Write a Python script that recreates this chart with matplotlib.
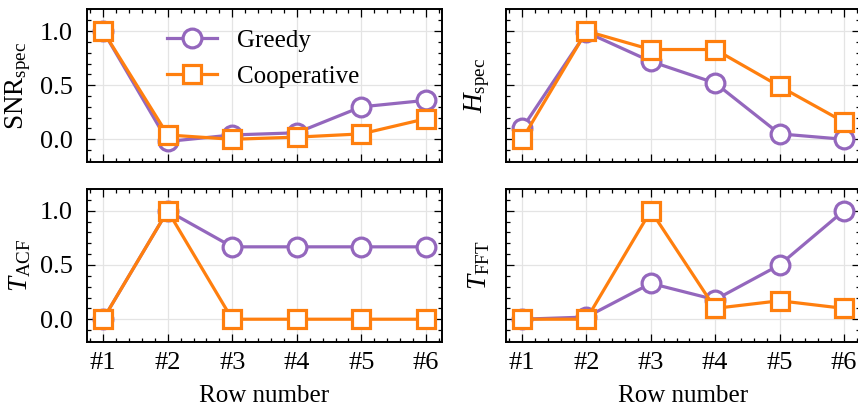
import matplotlib
matplotlib.use("Agg")
import matplotlib.pyplot as plt
from matplotlib.ticker import MultipleLocator, AutoMinorLocator

plt.rcParams['font.family'] = ['Liberation Serif', 'DejaVu Serif']
plt.rcParams['mathtext.fontset'] = 'custom'
plt.rcParams['mathtext.rm'] = 'Liberation Serif'
plt.rcParams['mathtext.it'] = 'Liberation Serif:italic'
plt.rcParams['mathtext.bf'] = 'Liberation Serif:bold'
plt.rcParams['font.size'] = 18

rows = [1, 2, 3, 4, 5, 6]
row_labels = ['#1', '#2', '#3', '#4', '#5', '#6']

snr_greedy = [1.0, -0.02, 0.04, 0.06, 0.30, 0.36]
snr_coop = [1.0, 0.04, 0.0, 0.02, 0.05, 0.19]

h_greedy = [0.10, 0.99, 0.72, 0.52, 0.05, 0.0]
h_coop = [0.0, 1.0, 0.83, 0.83, 0.49, 0.16]

tacf_greedy = [0.0, 1.0, 0.667, 0.667, 0.667, 0.667]
tacf_coop = [0.0, 1.0, 0.0, 0.0, 0.0, 0.0]

tfft_greedy = [0.0, 0.02, 0.33, 0.18, 0.50, 1.0]
tfft_coop = [0.0, 0.0, 1.0, 0.10, 0.17, 0.10]

ylabels = [r'SNR$_{\mathrm{spec}}$', r'$H_{\mathrm{spec}}$',
           r'$T_{\mathrm{ACF}}$', r'$T_{\mathrm{FFT}}$']
panels = [(snr_greedy, snr_coop), (h_greedy, h_coop),
          (tacf_greedy, tacf_coop), (tfft_greedy, tfft_coop)]

PURPLE = '#9467bd'
ORANGE = '#ff7f0e'

W, H = 858, 409
fig = plt.figure(figsize=(W / 100, H / 100), dpi=100)

# axes rectangles in pixel coords (left, top, right, bottom)
rects = [(87, 9.5, 442, 162), (506, 9.5, 860, 162),
         (87, 189, 442, 342), (506, 189, 860, 342)]
axes = []
for (l, t, r, b) in rects:
    ax = fig.add_axes([l / W, 1 - b / H, (r - l) / W, (b - t) / H])
    axes.append(ax)

for i, (ax, (g, c), yl) in enumerate(zip(axes, panels, ylabels)):
    ax.plot(rows, g, '-o', color=PURPLE, lw=2.3, ms=13.5, mew=2.3,
            mfc='white', mec=PURPLE, label='Greedy', zorder=3)
    ax.plot(rows, c, '-s', color=ORANGE, lw=2.3, ms=13, mew=2.3,
            mfc='white', mec=ORANGE, label='Cooperative', zorder=4)
    ax.set_xlim(0.75, 6.25)
    ax.set_ylim(-0.21, 1.2)
    ax.set_xticks(rows)
    ax.set_yticks([0.0, 0.5, 1.0])
    ax.yaxis.set_minor_locator(MultipleLocator(0.1))
    ax.xaxis.set_minor_locator(AutoMinorLocator(5))
    ax.grid(True, which='major', color='#e4e4e4', lw=0.9, zorder=0)
    ax.tick_params(which='both', direction='in', top=True, right=True,
                   width=0.9, color='black', labelsize=19)
    ax.tick_params(which='major', length=6)
    ax.tick_params(which='minor', length=3.2)
    ax.tick_params(axis='y', pad=10)
    ax.tick_params(axis='x', pad=7)
    for s in ax.spines.values():
        s.set_linewidth(1.4)
        s.set_color('black')
    if i < 2:
        ax.set_xticklabels([])
    else:
        ax.set_xticklabels(row_labels)
        ax.set_xlabel('Row number', labelpad=8)
    if i % 2 == 1:
        ax.set_yticklabels([])
        ax.set_ylabel(yl, fontsize=19.5)
        ax.yaxis.set_label_coords(-0.040, 0.5)
    else:
        ax.set_yticklabels(['0.0', '0.5', '1.0'])
        ax.set_ylabel(yl, fontsize=19.5)
        ax.yaxis.set_label_coords(-0.152, 0.5)

axes[0].legend(loc='upper left', bbox_to_anchor=(0.197, 0.935),
               borderaxespad=0, frameon=False, handlelength=2.0,
               handletextpad=0.8, labelspacing=0.55)

fig.savefig('out.png', dpi=100)
